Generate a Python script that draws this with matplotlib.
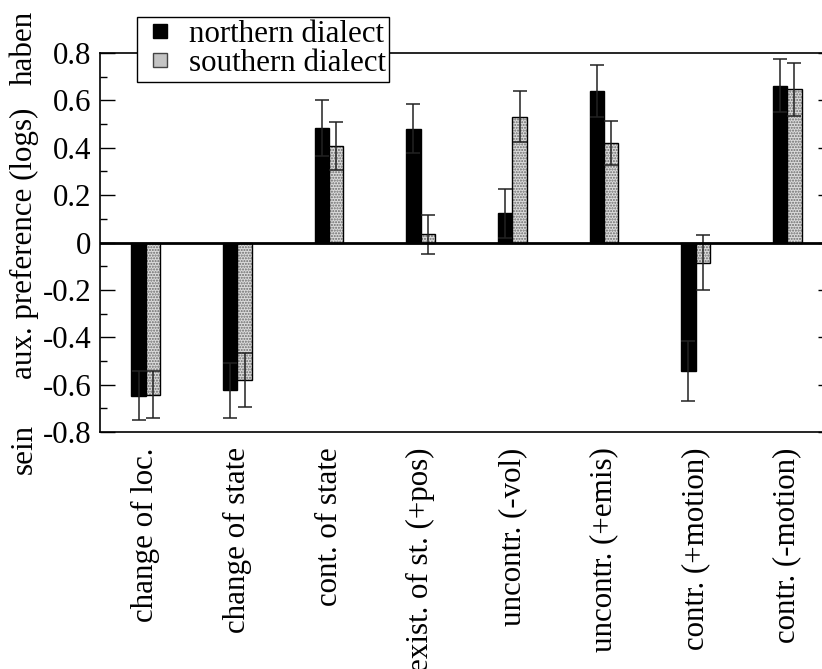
import numpy as np
import matplotlib
matplotlib.use("Agg")
import matplotlib.pyplot as plt
from matplotlib.lines import Line2D
from matplotlib.font_manager import FontProperties

# data
categories = ["change of loc.", "change of state", "cont. of state",
              "exist. of st. (+pos)", "uncontr. (-vol)", "uncontr. (+emis)",
              "contr. (+motion)", "contr. (-motion)"]
north = [-0.646, -0.623, 0.484, 0.481, 0.123, 0.638, -0.543, 0.661]
north_err = [0.105, 0.116, 0.117, 0.105, 0.104, 0.110, 0.126, 0.112]
south = [-0.642, -0.580, 0.408, 0.034, 0.531, 0.421, -0.085, 0.646]
south_err = [0.098, 0.115, 0.100, 0.082, 0.107, 0.094, 0.117, 0.112]
yticks = [-0.8, -0.6, -0.4, -0.2, 0, 0.2, 0.4, 0.6, 0.8]
ytick_labels = ["-0.8", "-0.6", "-0.4", "-0.2", "0", "0.2", "0.4", "0.6", "0.8"]

fs = 22.3
fp = FontProperties(family='Liberation Serif', size=fs)

fig = plt.figure(figsize=(8.22, 6.69), dpi=100)
# right spine sits just outside the picture, as in the original
ax = fig.add_axes([100 / 822, 1 - 432 / 669, 733 / 822, 379 / 669])

x = np.arange(1, len(categories) + 1)
w = 0.157

ax.bar(x - w / 2, north, w, color='black', edgecolor='black', linewidth=1, zorder=2)
# stippled bars: hatch layer then black outline
ax.bar(x + w / 2, south, w, color='#dcdcdc', edgecolor='#6a6a6a', hatch='......',
       linewidth=0, zorder=2)
ax.bar(x + w / 2, south, w, color='none', edgecolor='black', linewidth=1, zorder=3)

ax.errorbar(x - w / 2, north, yerr=north_err, fmt='none', ecolor='#222222',
            elinewidth=1.1, capsize=5, capthick=1.1, zorder=4)
ax.errorbar(x + w / 2, south, yerr=south_err, fmt='none', ecolor='#222222',
            elinewidth=1.1, capsize=5, capthick=1.1, zorder=4)

ax.axhline(0, color='black', linewidth=2, zorder=5)

ax.set_xlim(0.5, 8.5)
ax.set_ylim(-0.8, 0.8)
ax.set_yticks(yticks)
ax.set_yticklabels(ytick_labels, fontproperties=fp)
ax.set_yticks(np.arange(-0.7, 0.8, 0.2), minor=True)
ax.tick_params(axis='y', which='major', direction='in', length=10.8, width=1,
               pad=6, right=True)
ax.tick_params(axis='y', which='minor', direction='in', length=5, width=1, right=False)
ax.set_xticks(x)
ax.set_xticklabels(categories, rotation=90, fontproperties=fp, va='top')
ax.tick_params(axis='x', length=0, pad=11)
for s in ax.spines.values():
    s.set_linewidth(1.2)

fig.text(24 / 822, 1 - 243 / 669, "aux. preference (logs)", rotation=90,
         ha='center', va='center', fontproperties=fp)
fig.text(24 / 822, 1 - 48 / 669, "haben", rotation=90, ha='center', va='center',
         fontproperties=fp)
fig.text(24 / 822, 1 - 449 / 669, "sein", rotation=90, ha='center', va='center',
         fontproperties=fp)

handles = [Line2D([], [], linestyle='none', marker='s', markersize=10,
                  markerfacecolor='black', markeredgecolor='black'),
           Line2D([], [], linestyle='none', marker='s', markersize=10,
                  markerfacecolor='#c4c4c4', markeredgecolor='#444444')]
leg = fig.legend(handles, ["northern dialect", "southern dialect"],
                 loc='upper left', bbox_to_anchor=(137 / 822, 1 - 16.5 / 669),
                 prop=fp, frameon=True, fancybox=False, edgecolor='black',
                 framealpha=1, handlelength=1.23, handletextpad=0.32,
                 labelspacing=0.0, borderpad=0.12, borderaxespad=0)
leg.get_frame().set_linewidth(1)

fig.savefig("out.png", dpi=100)
